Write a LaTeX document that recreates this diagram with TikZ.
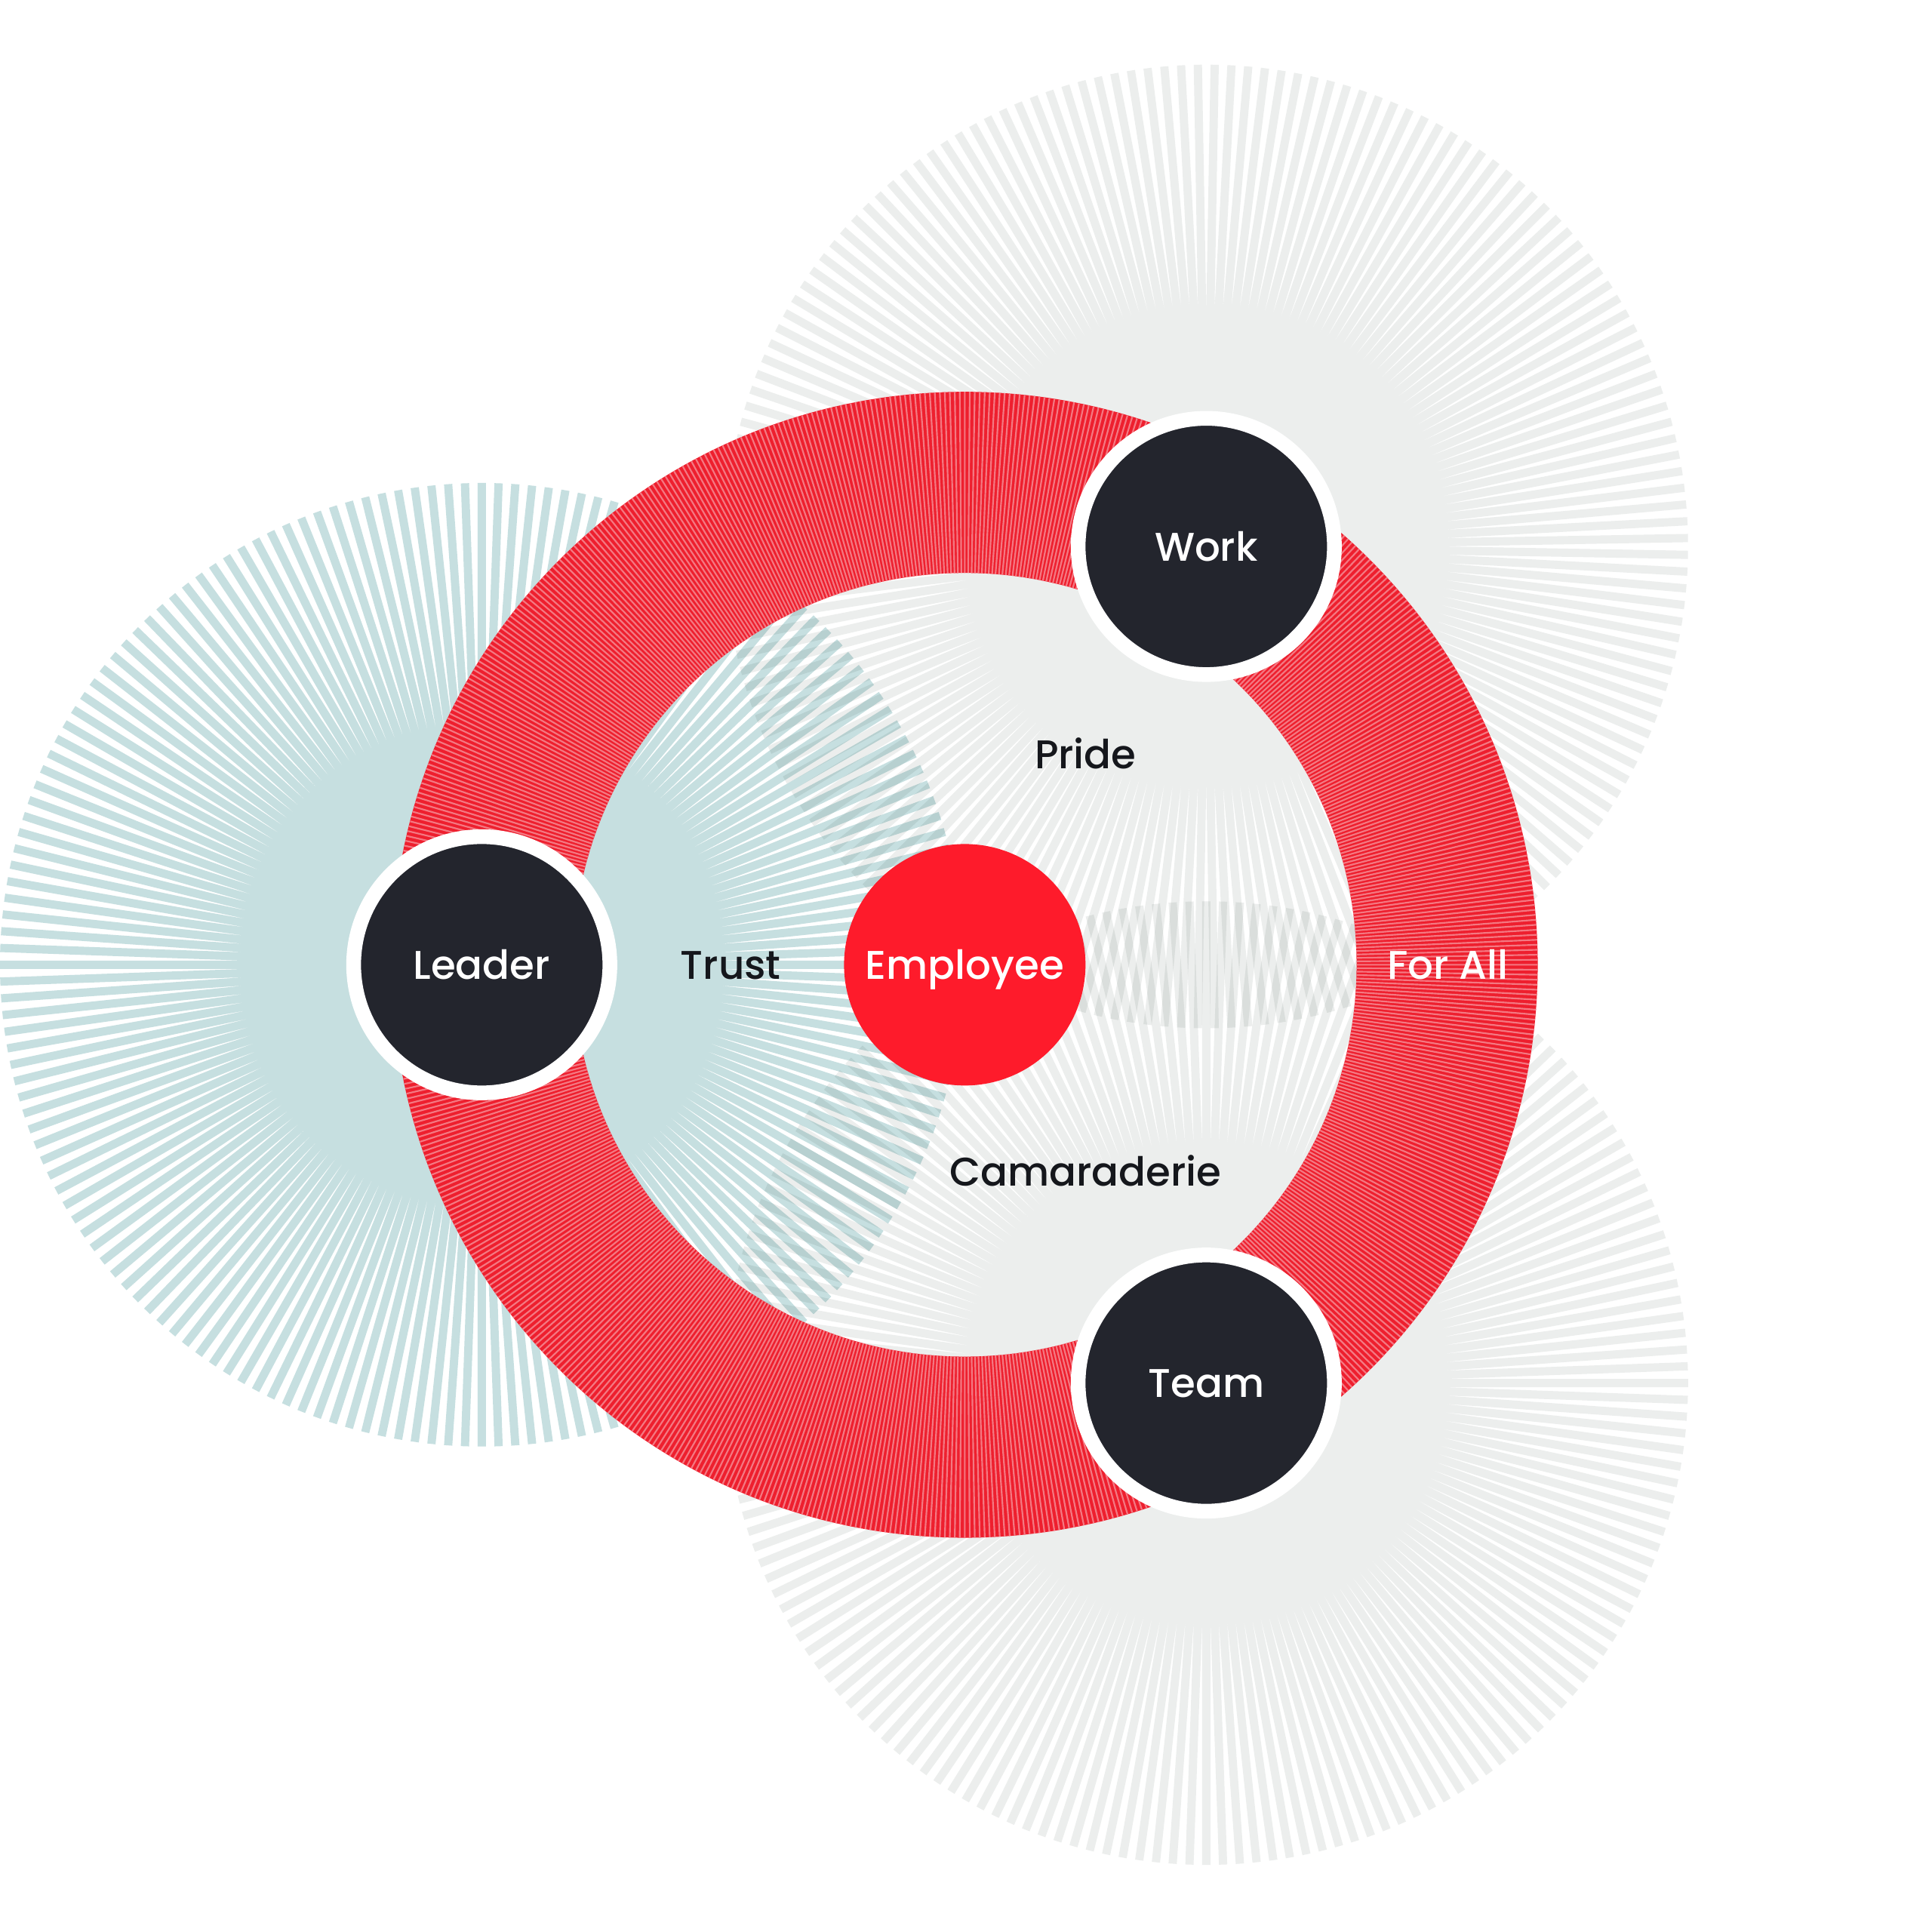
\documentclass[tikz,border=0pt]{standalone}
\usepackage{fontspec}
\IfFontExistsTF{Poppins Medium}{\setmainfont{Poppins Medium}}{\setmainfont{Poppins}}
\definecolor{teal0}{HTML}{C6DFE0}
\definecolor{gray0}{HTML}{ECEEED}
\definecolor{ringred}{HTML}{EE1F2E}
\definecolor{ringpink}{HTML}{F47882}
\definecolor{empred}{HTML}{FE1B2B}
\definecolor{nodedark}{HTML}{23252D}
\definecolor{ink}{HTML}{15171C}
\newcommand{\labelfont}{\fontsize{18.5}{22}\selectfont}
\begin{document}
\begin{tikzpicture}[x=0.02cm,y=0.02cm,
  ray/.style={line width=3.8pt, line cap=butt},
  hub/.style={circle, fill=nodedark, draw=white, line width=6.8pt, minimum size=4.16cm,
    inner sep=0pt, text=white, font=\labelfont, text height=13.2pt, text depth=0pt},
  lbl/.style={font=\labelfont, inner sep=0pt, text height=13.2pt, text depth=0pt}]
\useasboundingbox (-783,-785) rectangle (785,783);
\fill[white] (-783,-785) rectangle (785,783);
\coordinate (cE) at (0,0);
\coordinate (cL) at (-392,0);
\coordinate (cW) at (196,339.5);
\coordinate (cT) at (196,-339.5);
% sunbursts
\begin{scope}[blend mode=multiply]
\draw[ray, color=teal0] \foreach \a in {0,2,...,358}{ (cL) -- ++(\a:391) };
\draw[ray, color=gray0] \foreach \a in {1,3,...,359}{ (cW) -- ++(\a:391) };
\draw[ray, color=gray0] \foreach \a in {0,2,...,358}{ (cT) -- ++(\a:391) };
\end{scope}
% red ring
\fill[ringred, even odd rule] (cE) circle[radius=465] (cE) circle[radius=318];
\draw[line width=0.75pt, ringpink] \foreach \a in {0,0.5,...,359.5}{ (\a:318) -- (\a:465) };
% nodes
\node[hub] (work) at (cW) {Work};
\node[hub] (team) at (cT) {Team};
\node[hub] (leader) at (cL) {Leader};
\node[circle, fill=empred, minimum size=3.92cm, inner sep=0pt, text=white, font=\labelfont,
  text height=13.2pt, text depth=0pt] (emp) at (cE) {Employee};
% labels
\node[lbl, text=ink] (pride) at (98,171) {Pride};
\node[lbl, text=ink] (trust) at (-190,0) {Trust};
\node[lbl, text=ink] (cam) at (98,-168) {Camaraderie};
\node[lbl, text=white] (forall) at (392,0) {For All};
\end{tikzpicture}
\end{document}
